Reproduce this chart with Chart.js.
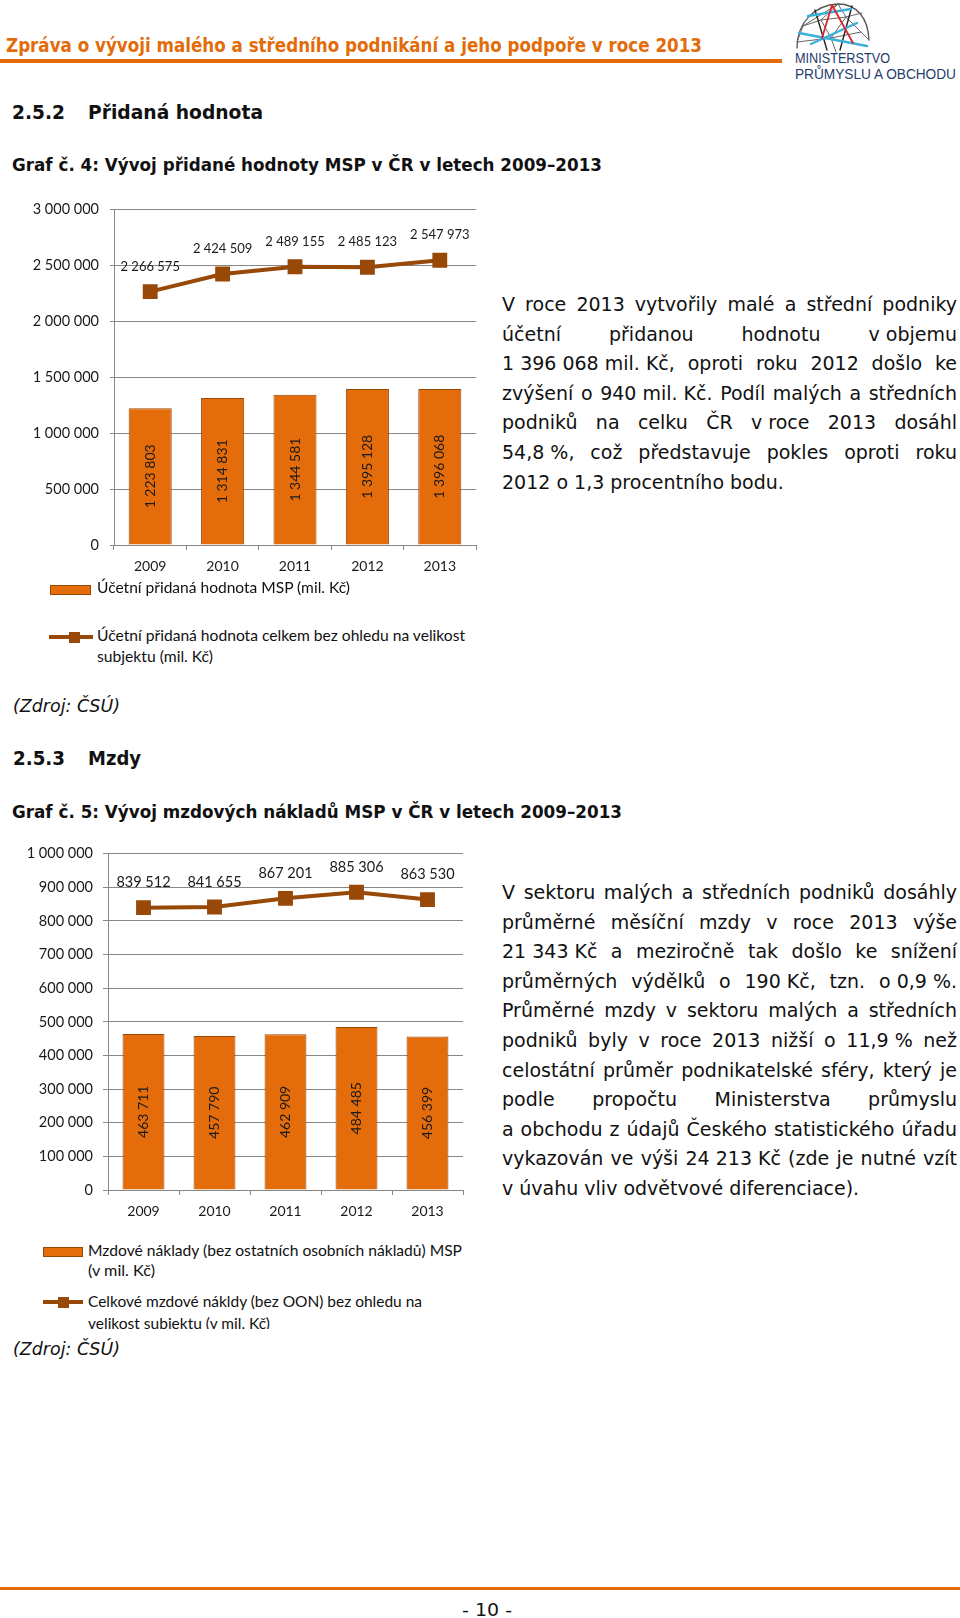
<!DOCTYPE html>
<html lang="cs">
<head>
<meta charset="utf-8">
<title>Přidaná hodnota a mzdy MSP</title>
<script src="https://cdn.jsdelivr.net/npm/chart.js@4.4.1/dist/chart.umd.min.js"></script>
<style>
html,body{margin:0;padding:0;background:#fff;}
#page{position:relative;width:960px;height:1618px;overflow:hidden;background:#fff;color:#111;}
.t{position:absolute;white-space:nowrap;transform-origin:0 50%;}
.p{position:absolute;left:502px;width:455px;height:24px;line-height:24px;font-family:"DejaVu Sans",Verdana,sans-serif;font-size:19px;
   text-align:justify;text-align-last:justify;white-space:nowrap;color:#111;}
.p.last{text-align:left;text-align-last:left;}
.nb{display:inline-block;}
.box{position:absolute;box-sizing:border-box;}
canvas{position:absolute;left:0;}
</style>
</head>
<body>
<div id="page">

  <!-- logo -->
  <svg style="position:absolute;left:790px;top:0" width="90" height="55" viewBox="790 0 90 55">
    <g fill="none" stroke-linecap="round">
      <path d="M797 48 C797 22 815 5 838 4 C857 4 868 18 869 40" stroke="#555" stroke-width="1.3"/>
      <path d="M803 26 L838 4 M803 26 L821 20 L838 4 L846 17 L821 20 M846 17 L862 13 M846 17 L861 32 L831 38 L821 20 M831 38 L846 17 M797 42 L831 38 M803 26 L797 42 M831 38 L836 52 M861 32 L869 40" stroke="#666" stroke-width="1"/>
      <path d="M815 10 L827 50 M852 6 L840 50" stroke="#222" stroke-width="1.4"/>
      <path d="M799 33 L867 46 M808 16 L851 9 M811 44 L857 23" stroke="#3bb0da" stroke-width="2.4"/>
      <path d="M832 5 L822 38 M832 5 L853 43" stroke="#d7262b" stroke-width="1.8"/>
    </g>
  </svg>

  <div class="box" style="left:0;top:59px;width:782px;height:4px;background:#e46c0a"></div>
  <div class="box" style="left:0;top:1587px;width:960px;height:3px;background:#e46c0a"></div>

  <canvas id="chart1" width="490" height="390" style="top:190px"></canvas>
  <canvas id="chart2" width="480" height="390" style="top:835px"></canvas>

  <!-- text 1 -->
  <div class="p" style="top:292px">V roce 2013 vytvořily malé a střední podniky</div>
  <div class="p" style="top:321.6px">účetní přidanou hodnotu <span class="nb">v objemu</span></div>
  <div class="p" style="top:351.2px"><span class="nb">1 396 068 mil. Kč,</span> oproti roku 2012 došlo ke</div>
  <div class="p" style="top:380.8px">zvýšení o <span class="nb">940 mil. Kč.</span> Podíl malých a středních</div>
  <div class="p" style="top:410.4px">podniků na celku ČR <span class="nb">v roce</span> 2013 dosáhl</div>
  <div class="p" style="top:440px"><span class="nb">54,8 %,</span> což představuje pokles oproti roku</div>
  <div class="p last" style="top:469.6px">2012 o 1,3 procentního bodu.</div>

  <!-- text 2 -->
  <div class="p" style="top:880px">V sektoru malých a středních podniků dosáhly</div>
  <div class="p" style="top:909.6px">průměrné měsíční mzdy v roce 2013 výše</div>
  <div class="p" style="top:939.2px"><span class="nb">21 343 Kč</span> a meziročně tak došlo ke snížení</div>
  <div class="p" style="top:968.8px">průměrných výdělků o <span class="nb">190 Kč,</span> tzn. <span class="nb">o 0,9 %.</span></div>
  <div class="p" style="top:998.4px">Průměrné mzdy v sektoru malých a středních</div>
  <div class="p" style="top:1028px">podniků byly v roce 2013 nižší o <span class="nb">11,9 %</span> než</div>
  <div class="p" style="top:1057.6px">celostátní průměr podnikatelské sféry, který je</div>
  <div class="p" style="top:1087.2px">podle propočtu Ministerstva průmyslu</div>
  <div class="p" style="top:1116.8px">a obchodu z údajů Českého statistického úřadu</div>
  <div class="p" style="top:1146.4px">vykazován ve výši <span class="nb">24 213 Kč</span> (zde je nutné vzít</div>
  <div class="p last" style="top:1176px">v úvahu vliv odvětvové diferenciace).</div>

  <!-- legend symbols -->
  <div class="box" style="left:50px;top:585px;width:41px;height:10px;background:#e46c0a;border:1px solid #984807"></div>
  <div class="box" style="left:49px;top:635px;width:44px;height:4px;background:#984807"></div>
  <div class="box" style="left:68.5px;top:631.5px;width:11px;height:11px;background:#984807"></div>

  <div class="box" style="left:43px;top:1247px;width:40px;height:10px;background:#e46c0a;border:1px solid #984807"></div>
  <div class="box" style="left:43px;top:1300px;width:40px;height:4px;background:#984807"></div>
  <div class="box" style="left:57.5px;top:1296.5px;width:11px;height:11px;background:#984807"></div>

  <div id="clip2" style="position:absolute;left:0;top:1285px;width:480px;height:44px;overflow:hidden"></div>
</div>

<script>
// data
var years = ['2009', '2010', '2011', '2012', '2013'];

// Graf 4 - pridana hodnota (mil. Kc)
var addedMsp = [1223803, 1314831, 1344581, 1395128, 1396068];
var addedTotal = [2266575, 2424509, 2489155, 2485123, 2547973];
var addedNames = ['Účetní přidaná hodnota MSP (mil. Kč)',
                  'Účetní přidaná hodnota celkem bez ohledu na velikost subjektu (mil. Kč)'];

// Graf 5 - mzdove naklady (mil. Kc)
var wagesMsp = [463711, 457790, 462909, 484485, 456399];
var wagesTotal = [839512, 841655, 867201, 885306, 863530];
var wagesNames = ['Mzdové náklady (bez ostatních osobních nákladů) MSP (v mil. Kč)',
                  'Celkové mzdové nákldy (bez OON) bez ohledu na velikost subjektu (v mil. Kč)'];

var orange = '#e46c0a';
var brown = '#984807';
var gridGray = '#878787';
var calibri = 'Lato, "Open Sans", sans-serif';

function fmt(v) {
  return String(v).replace(/\B(?=(\d{3})+(?!\d))/g, '\u00a0');
}

var page = document.getElementById('page');

function txt(s, x, cy, size, w, style, parent) {
  var d = document.createElement('div');
  d.className = 't';
  d.textContent = s;
  d.style.cssText = 'left:' + x + 'px;top:' + (cy - size * 0.65) + 'px;font-size:' + size +
    'px;line-height:' + (size * 1.3) + 'px;' + (style || '');
  (parent || page).appendChild(d);
  if (w) {
    var nat = d.getBoundingClientRect().width;
    d.style.transform = 'scaleX(' + (w / nat) + ')';
  }
  return d;
}

var verdana = 'font-family:"DejaVu Sans",Verdana,sans-serif;';
var verdanaB = verdana + 'font-weight:bold;';
var lato = 'font-family:' + calibri + ';color:#111;';

txt('Zpráva o vývoji malého a středního podnikání a jeho podpoře v roce 2013', 6, 45, 19, 696,
    'font-family:"Liberation Sans Narrow","DejaVu Sans Condensed","DejaVu Sans",sans-serif;font-weight:bold;color:#e36c0a;');
txt('MINISTERSTVO', 795, 58, 14, 95, 'font-family:"Liberation Sans",sans-serif;color:#1f3c6e;');
txt('PRŮMYSLU A OBCHODU', 795, 74, 14, 161, 'font-family:"Liberation Sans",sans-serif;color:#1f3c6e;');

txt('2.5.2', 12, 112, 19, 53, verdanaB);
txt('Přidaná hodnota', 88, 112, 19, 175, verdanaB);
txt('Graf č. 4: Vývoj přidané hodnoty MSP v ČR v letech 2009–2013', 12, 165, 17, 590, verdanaB);
txt('(Zdroj: ČSÚ)', 13, 706, 17, 107, verdana + 'font-style:italic;');
txt('2.5.3', 13, 758, 19, 52, verdanaB);
txt('Mzdy', 88, 758, 19, 53, verdanaB);
txt('Graf č. 5: Vývoj mzdových nákladů MSP v ČR v letech 2009–2013', 12, 812, 17, 610, verdanaB);
txt('(Zdroj: ČSÚ)', 13, 1349, 17, 107, verdana + 'font-style:italic;');
txt('- 10 -', 462, 1610, 18, 50, verdana);

// legends (text wrapped as in the original)
txt(addedNames[0], 97, 588, 15, 253, lato);
txt('Účetní přidaná hodnota celkem bez ohledu na velikost', 97, 636, 15, 368, lato);
txt('subjektu (mil. Kč)', 97, 657, 15, 116, lato);
txt('Mzdové náklady (bez ostatních osobních nákladů) MSP', 88, 1251, 15, 374, lato);
txt('(v mil. Kč)', 88, 1271, 15, 67, lato);
var clip2 = document.getElementById('clip2');
txt('Celkové mzdové nákldy (bez OON) bez ohledu na', 88, 17, 15, 334, lato, clip2);
txt('velikost subjektu (v mil. Kč)', 88, 39, 15, 182, lato, clip2);

// labels on bars and above points
var valueLabels = {
  id: 'valueLabels',
  afterDatasetsDraw: function (chart, args, opts) {
    var ctx = chart.ctx;
    chart.data.datasets.forEach(function (ds, i) {
      var meta = chart.getDatasetMeta(i);
      meta.data.forEach(function (el, j) {
        var s = fmt(ds.data[j]);
        ctx.save();
        ctx.fillStyle = '#1a1a1a';
        ctx.textAlign = 'center';
        ctx.textBaseline = 'middle';
        if (meta.type === 'bar') {
          ctx.font = opts.barFont;
          ctx.translate(el.x, (el.y + el.base) / 2);
          ctx.rotate(-Math.PI / 2);
          ctx.fillText(s, 0, 0);
        } else {
          ctx.font = opts.lineFont;
          ctx.fillText(s, el.x, el.y - 25);
        }
        ctx.restore();
      });
    });
  }
};

function makeChart(id, names, bars, line, yMax, yStep, g) {
  return new Chart(document.getElementById(id), {
    type: 'bar',
    data: {
      labels: years,
      datasets: [{
        type: 'line',
        label: names[1],
        data: line,
        borderColor: brown,
        backgroundColor: brown,
        borderWidth: 4,
        pointStyle: 'rect',
        pointRadius: 10.5,
        pointBackgroundColor: brown,
        pointBorderColor: brown,
        pointBorderWidth: 0,
        tension: 0,
        order: 0
      }, {
        type: 'bar',
        label: names[0],
        data: bars,
        backgroundColor: orange,
        borderColor: brown,
        borderWidth: 1,
        barPercentage: g.bar,
        categoryPercentage: 1,
        order: 1
      }]
    },
    options: {
      responsive: false,
      animation: false,
      events: [],
      layout: { padding: { left: 0, right: g.right, top: g.top, bottom: 0 } },
      plugins: {
        legend: { display: false },
        tooltip: { enabled: false },
        valueLabels: { barFont: '14px ' + calibri, lineFont: g.lineFont }
      },
      scales: {
        x: {
          grid: { display: true, drawOnChartArea: false, drawTicks: true, tickLength: 5, color: gridGray, offset: true },
          border: { display: true, color: gridGray },
          ticks: { color: '#1a1a1a', font: { family: calibri, size: 14 }, padding: 8 },
          afterFit: function (s) { s.height = 35; }
        },
        y: {
          min: 0,
          max: yMax,
          grid: { color: gridGray, drawTicks: true, tickLength: g.tick },
          border: { display: true, color: gridGray },
          ticks: {
            stepSize: yStep,
            color: '#1a1a1a',
            font: { family: calibri, size: 14.5 },
            padding: g.pad,
            callback: function (v) { return fmt(v); }
          },
          afterFit: function (s) { s.width = g.left; }
        }
      }
    },
    plugins: [valueLabels]
  });
}

makeChart('chart1', addedNames, addedMsp, addedTotal, 3000000, 500000,
  { left: 114, right: 14, top: 12, tick: 4, pad: 11, bar: 0.595, lineFont: '13px ' + calibri });
makeChart('chart2', wagesNames, wagesMsp, wagesTotal, 1000000, 100000,
  { left: 108, right: 17, top: 11, tick: 5, pad: 10, bar: 0.59, lineFont: '14.5px ' + calibri });
</script>
</body>
</html>
